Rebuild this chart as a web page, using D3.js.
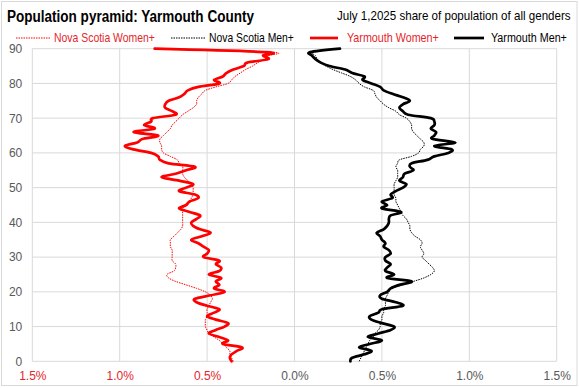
<!DOCTYPE html>
<html><head><meta charset="utf-8">
<script src="https://cdn.jsdelivr.net/npm/d3@7"></script>
<style>html,body{margin:0;padding:0;background:#fff}svg{display:block}</style>
</head><body>
<svg id="c" width="579" height="388"></svg>
<script>
const ages = d3.range(0, 91);
const nsWomen = [0.35,0.36,0.37,0.37,0.39,0.41,0.43,0.46,0.49,0.50,0.51,0.51,0.51,0.50,0.50,0.50,0.49,0.48,0.47,0.48,
0.51,0.56,0.62,0.68,0.72,0.73,0.69,0.68,0.68,0.70,0.70,0.70,0.70,0.71,0.71,0.71,0.69,0.67,0.65,0.64,
0.64,0.64,0.64,0.64,0.64,0.62,0.60,0.59,0.58,0.58,0.58,0.59,0.61,0.63,0.64,0.64,0.64,0.66,0.67,0.71,
0.75,0.76,0.76,0.77,0.77,0.75,0.73,0.71,0.70,0.68,0.66,0.64,0.61,0.58,0.56,0.56,0.55,0.53,0.51,0.45,
0.38,0.36,0.34,0.31,0.28,0.24,0.21,0.17,0.15,0.13,0.75];
const nsMen = [0.37,0.38,0.39,0.40,0.41,0.42,0.43,0.45,0.46,0.48,0.49,0.49,0.50,0.50,0.51,0.51,0.52,0.52,0.52,0.53,
0.54,0.56,0.62,0.68,0.74,0.78,0.80,0.79,0.77,0.75,0.73,0.74,0.73,0.72,0.73,0.72,0.69,0.67,0.66,0.66,
0.65,0.64,0.62,0.61,0.60,0.59,0.58,0.58,0.57,0.57,0.57,0.57,0.58,0.59,0.59,0.59,0.58,0.59,0.60,0.67,
0.71,0.72,0.74,0.74,0.72,0.70,0.68,0.67,0.67,0.66,0.64,0.60,0.58,0.54,0.51,0.49,0.47,0.46,0.45,0.40,
0.37,0.35,0.32,0.27,0.22,0.18,0.15,0.13,0.12,0.11,0.25];
const yarWomen = [0.36,0.37,0.36,0.33,0.30,0.41,0.38,0.43,0.49,0.45,0.40,0.38,0.45,0.50,0.46,0.43,0.50,0.56,0.57,0.48,
0.40,0.46,0.43,0.45,0.42,0.49,0.43,0.42,0.45,0.43,0.52,0.50,0.49,0.52,0.55,0.59,0.53,0.48,0.54,0.58,
0.59,0.56,0.54,0.60,0.66,0.62,0.60,0.55,0.57,0.66,0.62,0.58,0.66,0.76,0.68,0.62,0.57,0.72,0.77,0.78,
0.82,0.92,0.97,0.90,0.87,0.78,0.92,0.80,0.86,0.82,0.81,0.68,0.70,0.74,0.74,0.72,0.66,0.63,0.61,0.55,
0.43,0.46,0.41,0.39,0.35,0.29,0.27,0.15,0.18,0.16,0.80];
const yarMen = [0.32,0.33,0.40,0.44,0.37,0.43,0.50,0.42,0.48,0.55,0.57,0.50,0.44,0.43,0.48,0.50,0.62,0.58,0.50,0.49,
0.53,0.55,0.60,0.67,0.53,0.57,0.52,0.53,0.55,0.52,0.52,0.55,0.54,0.51,0.52,0.50,0.49,0.47,0.51,0.53,
0.54,0.54,0.55,0.61,0.50,0.53,0.50,0.56,0.55,0.58,0.62,0.64,0.60,0.62,0.63,0.68,0.66,0.67,0.76,0.80,
0.88,0.90,0.80,0.92,0.79,0.80,0.81,0.78,0.80,0.80,0.78,0.65,0.62,0.60,0.62,0.66,0.62,0.56,0.51,0.49,
0.44,0.39,0.40,0.33,0.29,0.20,0.15,0.12,0.10,0.09,0.26];
const xTicks = [-1.5,-1.0,-0.5,0,0.5,1.0,1.5];
const yTicks = [0,10,20,30,40,50,60,70,80,90];
const seriesNames = ["Nova Scotia Women+","Nova Scotia Men+","Yarmouth Women+","Yarmouth Men+"];

const RED = "#ff0000", RED_TXT = "#e4262b", GRAY_TXT = "#595959", GRID = "#d9d9d9";
const svg = d3.select("#c");
const font = "'Liberation Sans Narrow','Arial Narrow','Liberation Sans',Arial,sans-serif";

svg.append("rect").attr("x",1.5).attr("y",1.5).attr("width",575.5).attr("height",384)
  .attr("fill","#fff").attr("stroke",GRID).attr("stroke-width",1);

const x = d3.scaleLinear().domain([-1.5,1.5]).range([32.3,556.7]);
const y = d3.scaleLinear().domain([0,90]).range([361.3,48.7]);

// grid
const g = svg.append("g");
g.selectAll(".vg").data(xTicks).join("line")
  .attr("x1",d=>x(d)).attr("x2",d=>x(d)).attr("y1",y(90)).attr("y2",y(0))
  .attr("stroke",GRID).attr("stroke-width",1);
g.selectAll(".hg").data(yTicks).join("line")
  .attr("x1",x(-1.5)).attr("x2",x(1.5)).attr("y1",d=>y(d)).attr("y2",d=>y(d))
  .attr("stroke",GRID).attr("stroke-width",1);

// axes labels
const yAxis = d3.axisLeft(y).tickValues(yTicks).tickSize(0).tickPadding(10);
const ya = svg.append("g").attr("transform",`translate(${x(-1.5)},0)`).call(yAxis);
ya.select(".domain").remove();
ya.selectAll("text").attr("fill",GRAY_TXT).style("font-family",font).style("font-size","12px");

const xAxis = d3.axisBottom(x).tickValues(xTicks).tickSize(0).tickPadding(10)
  .tickFormat(d=>Math.abs(d).toFixed(1)+"%");
const xa = svg.append("g").attr("transform",`translate(0,${y(0)})`).call(xAxis);
xa.select(".domain").remove();
xa.selectAll("text").attr("fill",d=>d<0?RED_TXT:GRAY_TXT).style("font-family",font).style("font-size","12px");

// lines
const line = (sign)=>d3.line().x((d,i)=>x(sign*d)).y((d,i)=>y(ages[i])).curve(d3.curveCatmullRom.alpha(0));
const styles = [
  {data:nsWomen, sign:-1, color:RED, w:1, dash:"1.5,1"},
  {data:nsMen, sign:1, color:"#000", w:1, dash:"1.5,1"},
  {data:yarWomen, sign:-1, color:RED, w:2.7, dash:null},
  {data:yarMen, sign:1, color:"#000", w:2.7, dash:null}
];
styles.forEach(s=>{
  svg.append("path").attr("d",line(s.sign)(s.data)).attr("fill","none")
    .attr("stroke",s.color).attr("stroke-width",s.w).attr("stroke-dasharray",s.dash)
    .attr("stroke-linejoin","round").attr("stroke-linecap", s.dash? "butt":"round");
});

// helper: text fitted to a width by horizontal scaling
function fitText(px, py, str, size, weight, fill, width){
  const gg = svg.append("g");
  const t = gg.append("text").attr("x",0).attr("y",0).text(str)
    .style("font-family",font).style("font-weight",weight).style("font-size",size+"px").attr("fill",fill);
  const w = t.node().getComputedTextLength();
  const s = Math.min(1, width / w);
  gg.attr("transform",`translate(${px},${py}) scale(${s},1)`);
  return gg;
}

// title
fitText(7, 22, "Population pyramid: Yarmouth County", 17, "bold", "#000", 247);
fitText(337, 20, "July 1,2025 share of population of all genders", 13, "normal", "#000", 234);

// legend
const leg = [
  {x1:16,x2:50,tx:54,tw:101,color:RED,txt:RED_TXT,w:1,dash:"1.5,1"},
  {x1:171,x2:205,tx:209,tw:85,color:"#000",txt:"#000",w:1,dash:"1.5,1"},
  {x1:310,x2:338,tx:347,tw:92,color:RED,txt:RED_TXT,w:2.7,dash:null},
  {x1:454,x2:484,tx:491,tw:76,color:"#000",txt:"#000",w:2.7,dash:null}
];
const LY = 38;
leg.forEach((l,i)=>{
  svg.append("line").attr("x1",l.x1).attr("x2",l.x2).attr("y1",LY).attr("y2",LY)
    .attr("stroke",l.color).attr("stroke-width",l.w).attr("stroke-dasharray",l.dash);
  fitText(l.tx, LY+4, seriesNames[i], 12, "normal", l.txt, l.tw);
});
</script>
</body></html>
